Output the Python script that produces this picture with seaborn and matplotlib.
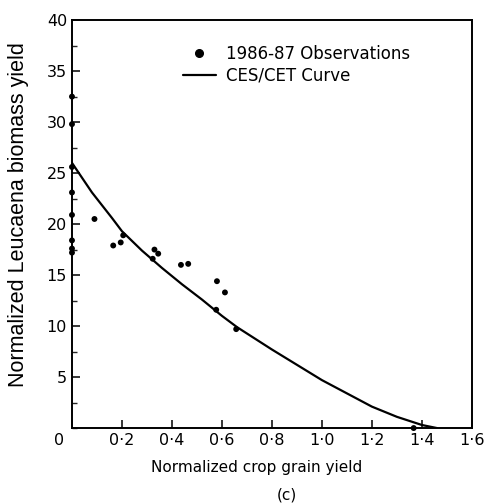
# Leucaena biomass vs crop grain yield, panel (c)

import matplotlib
matplotlib.use("Agg")
import matplotlib.pyplot as plt
import matplotlib.transforms as mtransforms
from matplotlib.lines import Line2D
from matplotlib.ticker import MultipleLocator
import seaborn as sns

# 1986-87 observations
obs_x = [0, 0, 0, 0, 0, 0, 0, 0, 0.09, 0.165, 0.195, 0.205, 0.323, 0.33, 0.345,
         0.436, 0.465, 0.577, 0.58, 0.612, 0.657, 1.367]
obs_y = [32.5, 29.8, 25.6, 23.1, 20.9, 18.4, 17.6, 17.2, 20.5, 17.9, 18.2, 18.9, 16.6, 17.5, 17.1,
         16.0, 16.1, 11.6, 14.4, 13.3, 9.7, 0.0]

# CES/CET curve
curve_x = [0.0, 0.08, 0.16, 0.2, 0.28, 0.36, 0.44, 0.52, 0.6, 0.66, 0.8, 1.0, 1.2, 1.3, 1.4, 1.46]
curve_y = [26.0, 23.1, 20.6, 19.3, 17.4, 15.7, 14.1, 12.6, 11.0, 9.9, 7.7, 4.7, 2.1, 1.1, 0.3, 0.0]

x_ticks = [0, 0.2, 0.4, 0.6, 0.8, 1.0, 1.2, 1.4, 1.6]
x_tick_labels = ["0", "0·2", "0·4", "0·6", "0·8", "1·0", "1·2", "1·4", "1·6"]
y_ticks = [5, 10, 15, 20, 25, 30, 35, 40]

sns.set_theme(style="ticks")
plt.rcParams["font.family"] = ["DejaVu Sans"]
plt.rcParams["text.color"] = "black"
plt.rcParams["axes.labelcolor"] = "black"

fig = plt.figure(figsize=(4.88, 5.03), dpi=100)
ax = fig.add_axes([0.1475, 0.149, 0.8195, 0.811])

sns.scatterplot(x=obs_x, y=obs_y, color="black", s=18, edgecolor="none",
                ax=ax, zorder=3, clip_on=False)
sns.lineplot(x=curve_x, y=curve_y, color="black", lw=1.6, ax=ax, sort=False)

ax.set_xlim(0, 1.6)
ax.set_ylim(0, 40)
ax.set_xticks(x_ticks)
ax.set_xticklabels(x_tick_labels)
ax.set_yticks(y_ticks)
ax.yaxis.set_minor_locator(MultipleLocator(2.5))
ax.tick_params(axis="both", which="major", direction="in", length=6, width=1.1,
               labelsize=11.5, colors="black")
ax.tick_params(axis="y", which="minor", direction="in", length=3.5, width=1.0)
for s in ax.spines.values():
    s.set_linewidth(1.4)
    s.set_color("black")

# the "0" sits left of the corner
lbl0 = ax.get_xticklabels()[0]
lbl0.set_transform(lbl0.get_transform() + mtransforms.ScaledTranslation(-13 / 100, 0, fig.dpi_scale_trans))

ax.set_xlabel("Normalized crop grain yield", fontsize=11)
ax.xaxis.set_label_coords(0.4625, -0.078)
ax.set_ylabel("Normalized Leucaena biomass yield", fontsize=15.5, family="Liberation Sans")
ax.yaxis.set_label_coords(-0.108, 0.523)
fig.text(287 / 488, 0.016, "(c)", fontsize=11, ha="center", va="center")

handles = [Line2D([], [], marker="o", color="black", ls="none", markersize=5.5),
           Line2D([], [], color="black", lw=1.6)]
ax.legend(handles, ["1986-87 Observations", "CES/CET Curve"], loc="upper left",
          bbox_to_anchor=(0.26, 0.955), frameon=False, fontsize=12,
          handlelength=2.0, handletextpad=0.6, labelspacing=0.2, borderaxespad=0)

fig.savefig("out.png", dpi=100)
